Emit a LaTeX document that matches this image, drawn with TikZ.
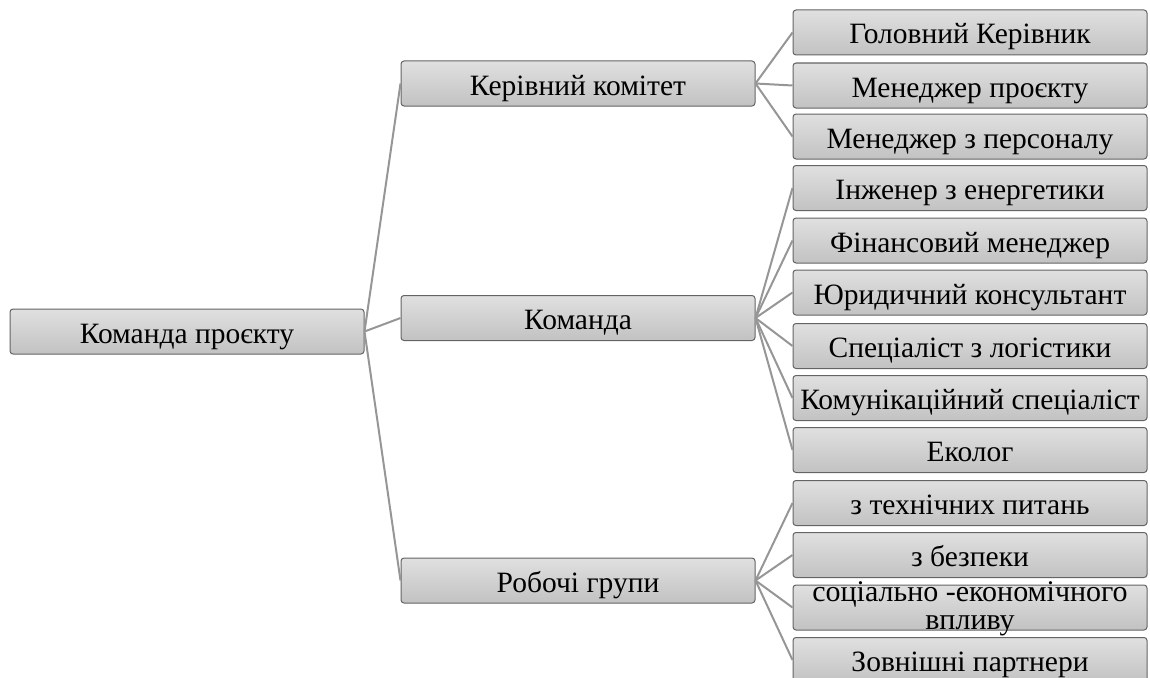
\documentclass[tikz,border=0pt]{standalone}
\usepackage{fontspec}
\setmainfont{Liberation Serif}
\newfontfamily\boxfont{Liberation Serif}
\definecolor{boxtop}{RGB}{224,224,224}
\definecolor{boxbottom}{RGB}{194,194,194}
\definecolor{boxline}{RGB}{100,100,100}
\definecolor{linkgray}{RGB}{150,150,150}

\begin{document}
\begin{tikzpicture}[x=1pt, y=-1pt,
        box/.style={draw=boxline, line width=1pt, rounded corners=3pt, top color=boxtop, bottom color=boxbottom,
            minimum width=354pt, minimum height=45pt, inner sep=0pt, text height=23pt, text depth=0pt,
            font=\boxfont\fontsize{29.5}{29.5}\selectfont},
        link/.style={draw=linkgray, line width=2pt}]
        \useasboundingbox (0, 0) rectangle (1150, 677);
        \begin{scope}
            % left and middle column
            \node [box] (root) at (187, 331.5) {Команда проєкту};
            \node [box] (board) at (578, 83.5) {Керівний комітет};
            \node [box] (team) at (578, 318) {Команда};
            \node [box] (groups) at (578, 580.5) {Робочі групи};

            \draw [link] (root.east) -- (board.west);
            \draw [link] (root.east) -- (team.west);
            \draw [link] (root.east) -- (groups.west);

            % right column
            \node [box] (B1) at (970, 32.5) {Головний Керівник};
            \node [box] (B2) at (970, 85.5) {Менеджер проєкту};
            \node [box] (B3) at (970, 136.5) {Менеджер з персоналу};

            \node [box] (T1) at (970, 188) {Інженер з енергетики};
            \node [box] (T2) at (970, 240.5) {Фінансовий менеджер};
            \node [box] (T3) at (970, 292.5) {Юридичний консультант};
            \node [box] (T4) at (970, 346) {Спеціаліст з логістики};
            \node [box] (T5) at (970, 398) {Комунікаційний спеціаліст};
            \node [box] (T6) at (970, 450) {Еколог};

            \node [box] (G1) at (970, 503) {з технічних питань};
            \node [box] (G2) at (970, 555) {з безпеки};
            \node [box] (G3) at (970, 607.5) {\raisebox{18pt}[0pt][0pt]{\fontsize{30}{28}\selectfont
                \begin{tabular}[t]{@{}c@{}}соціально -економічного\\впливу\end{tabular}}};
            \node [box] (G4) at (970, 660) {Зовнішні партнери};

            \draw [link] (board.east) -- (B1.west);
            \draw [link] (board.east) -- (B2.west);
            \draw [link] (board.east) -- (B3.west);

            \draw [link] (team.east) -- (T1.west);
            \draw [link] (team.east) -- (T2.west);
            \draw [link] (team.east) -- (T3.west);
            \draw [link] (team.east) -- (T4.west);
            \draw [link] (team.east) -- (T5.west);
            \draw [link] (team.east) -- (T6.west);

            \draw [link] (groups.east) -- (G1.west);
            \draw [link] (groups.east) -- (G2.west);
            \draw [link] (groups.east) -- (G3.west);
            \draw [link] (groups.east) -- (G4.west);
        \end{scope}
    \end{tikzpicture}
\end{document}
